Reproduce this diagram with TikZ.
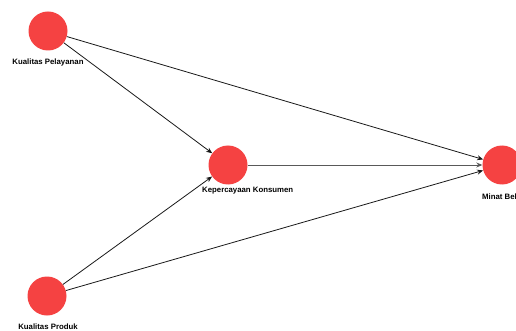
\documentclass[tikz,border=0pt]{standalone}
\usepackage{fontspec}
\setmainfont{Liberation Sans}
\usetikzlibrary{arrows.meta}
\begin{document}
\begin{tikzpicture}[x=1pt,y=-1pt,
  lv/.style={circle,fill={rgb,255:red,245;green,66;blue,66},draw=none,minimum size=39pt,inner sep=0pt},
  lbl/.style={font=\fontsize{7.8}{8}\selectfont\bfseries,inner sep=0pt},
  conn/.style={draw=black!90,line width=0.8pt,-{Stealth[length=6pt,width=5pt]}}]
\useasboundingbox (0,0) rectangle (516,331);
\clip (0,0) rectangle (516,331);
\fill[white] (0,0) rectangle (516,331);
\node[lv] (kp) at (48,31) {};
\node[lv] (kk) at (228,165) {};
\node[lv] (mb) at (502,165) {};
\node[lv] (kpr) at (47,296) {};
\node[lbl] (lkp) at (48,62) {Kualitas Pelayanan};
\node[lbl,anchor=west] (lkk) at (202,191) {Kepercayaan Konsumen};
\node[lbl,anchor=west] (lmb) at (482,197) {Minat Beli};
\node[lbl] (lkpr) at (48,327) {Kualitas Produk};
\draw[conn] (kp) -- (kk);
\draw[conn] (kp) -- (mb);
\draw[conn] (kpr) -- (kk);
\draw[conn] (kpr) -- (mb);
\draw[conn,draw=black!65] (kk) -- (mb);
\end{tikzpicture}
\end{document}
